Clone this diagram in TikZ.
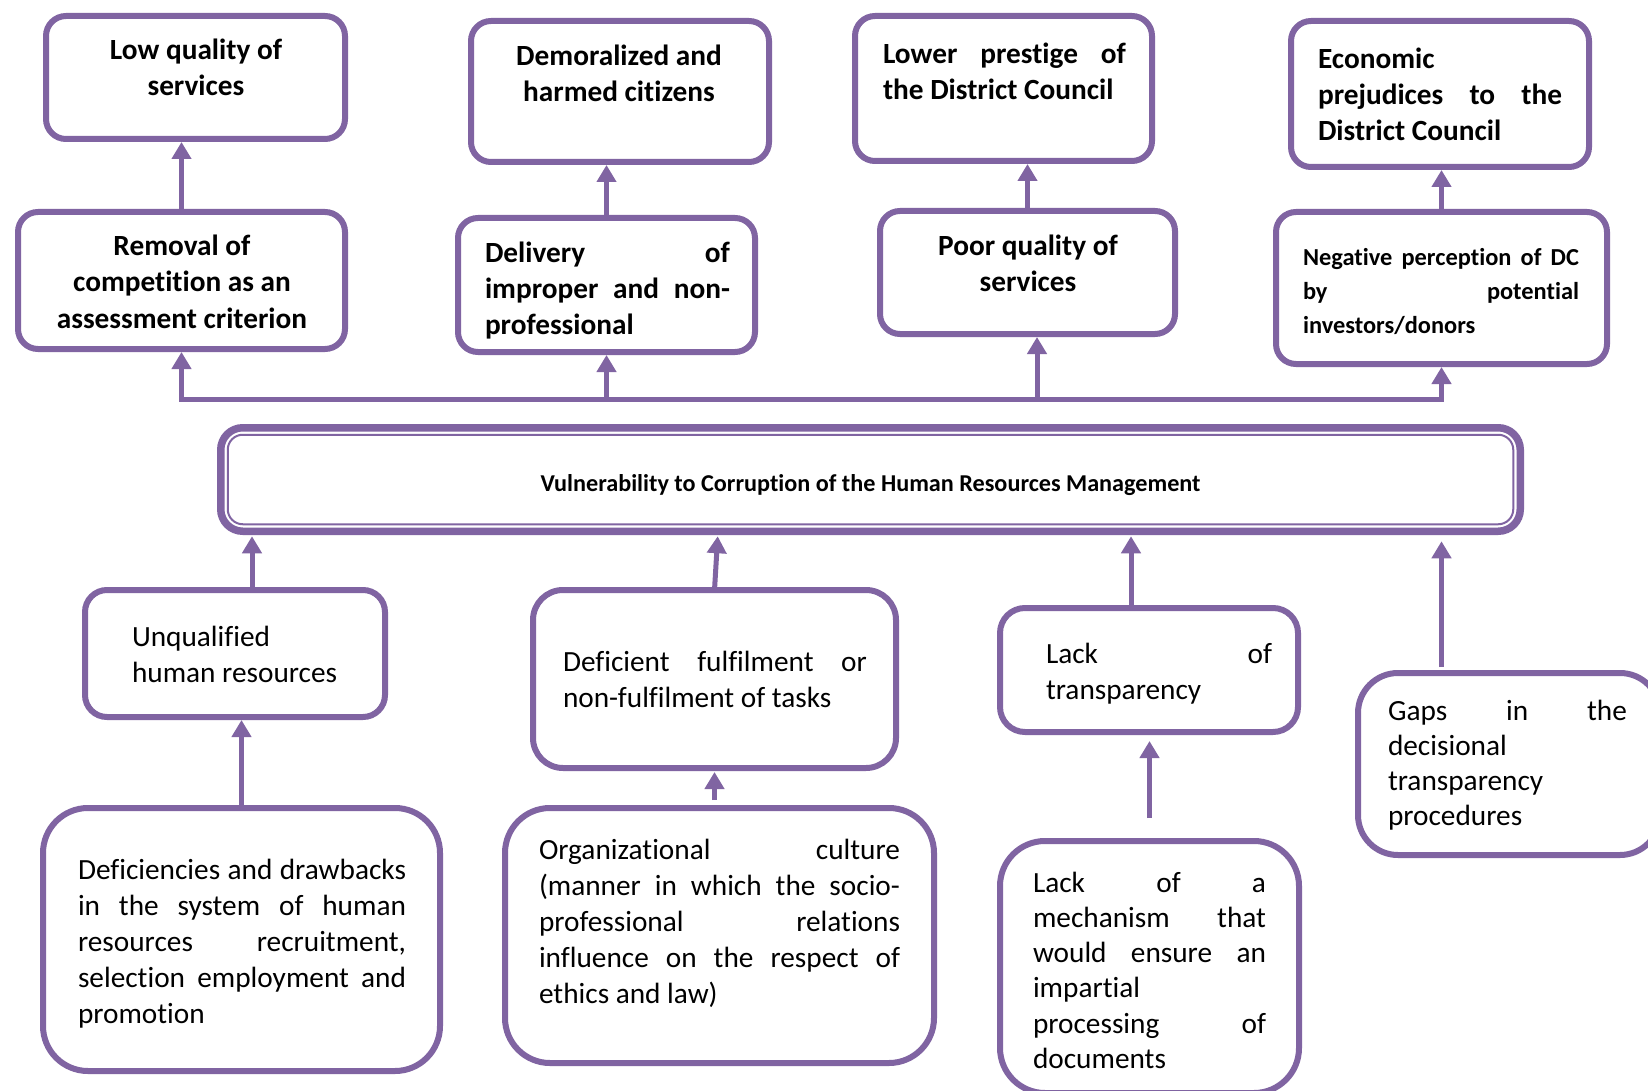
\documentclass[tikz,border=0pt]{standalone}
\usepackage{fontspec}
\setmainfont{Carlito}[Ligatures=NoCommon]
\usetikzlibrary{arrows.meta}
\definecolor{vpurple}{RGB}{128,100,162}

% box content: #1 width, #2 height, #3 left inset, #4 first baseline, #5 text width, #6 lines
\newcommand\inbox[6]{\parbox[c][#2][t]{#1}{\vspace*{\dimexpr#4-0.7\baselineskip\relax}\noindent\hspace*{#3}\parbox[t]{#5}{#6}}}
% justified, left and centred lines
\newcommand\J[1]{\hbox to\linewidth{\strut#1}}
\newcommand\Lf[1]{\hbox to\linewidth{\strut#1\hfil}}
\newcommand\C[1]{\hbox to\linewidth{\hfil\strut#1\hfil}}

\begin{document}
\begin{tikzpicture}[x=1pt,y=-1pt,
  box/.style={draw=vpurple, line width=6pt, rounded corners=20pt, inner sep=0pt, outer sep=0pt, fill=white, anchor=north west},
  hd/.style={font=\fontsize{29.3}{36}\selectfont\bfseries},
  bd/.style={font=\fontsize{29.3}{36}\selectfont},
  sm/.style={font=\fontsize{24.4}{34}\selectfont\bfseries},
  arr/.style={draw=vpurple, line width=5pt, -{Triangle[length=17pt,width=19pt]}, shorten >=3pt},
  conn/.style={draw=vpurple, line width=5pt}]
\useasboundingbox (0,0) rectangle (1648,1091);
\fill[white] (0,0) rectangle (1648,1091);

% consequences (top rows)
\node[box,hd] (b1) at (46,16) {\inbox{299pt}{123pt}{20pt}{44pt}{260pt}{\C{Low quality of}\C{services}}};
\node[box,hd] (b2) at (18,212) {\inbox{327pt}{137pt}{14pt}{44pt}{300pt}{\C{Removal of}\C{competition as an}\C{assessment criterion}}};
\node[box,hd] (b3) at (471,21) {\inbox{298pt}{141pt}{18pt}{45pt}{260pt}{\C{Demoralized and}\C{harmed citizens}}};
\node[box,hd] (b4) at (458,218) {\inbox{297pt}{134pt}{27pt}{44pt}{245pt}{\J{Delivery of}\J{improper and non-}\Lf{professional}}};
\node[box,hd] (b5) at (855,16) {\inbox{297pt}{145pt}{28pt}{48pt}{243pt}{\J{Lower prestige of}\Lf{the District Council}}};
\node[box,hd] (b6) at (880,211) {\inbox{295pt}{123pt}{18pt}{45pt}{260pt}{\C{Poor quality of}\C{services}}};
\node[box,hd] (b7) at (1291,21) {\inbox{298pt}{146pt}{27pt}{48pt}{244pt}{\Lf{Economic}\J{prejudices to the}\Lf{District Council}}};
\node[box,sm] (b8) at (1276,212) {\inbox{331pt}{152pt}{27pt}{53pt}{276pt}{\J{Negative perception of DC}\J{by potential}\Lf{investors/donors}}};

% central problem
\node[box, line width=7.5pt, rounded corners=22pt, font=\fontsize{24.2}{30}\selectfont\bfseries] (M) at (220.75,427.75)
  {\inbox{1299.5pt}{103.5pt}{0pt}{63.25pt}{1299.5pt}{\C{Vulnerability to Corruption of the Human Resources Management}}};
\draw[vpurple, line width=2pt, rounded corners=15pt] ([shift={(7pt,-7pt)}]M.north west) rectangle ([shift={(-7pt,7pt)}]M.south east);

% causes (bottom rows)
\node[box,bd,rounded corners=22pt] (U) at (85,590) {\inbox{300pt}{127pt}{47pt}{56pt}{240pt}{\Lf{Unqualified}\Lf{human resources}}};
\node[box,bd,rounded corners=45pt] (D) at (43,808) {\inbox{397pt}{263pt}{35pt}{71pt}{328pt}{\J{Deficiencies and drawbacks}\J{in the system of human}\J{resources recruitment,}\J{selection employment and}\Lf{promotion}}};
\node[box,bd,rounded corners=30pt] (F) at (533,590) {\inbox{363pt}{178pt}{30pt}{81pt}{304pt}{\J{Deficient fulfilment or}\Lf{non-fulfilment of tasks}}};
\node[box,bd,rounded corners=45pt] (O) at (505,808) {\inbox{429pt}{255pt}{34pt}{51pt}{361pt}{\J{Organizational culture}\J{(manner in which the socio-}\J{professional relations}\J{influence on the respect of}\Lf{ethics and law)}}};
\node[box,bd,rounded corners=25pt] (T) at (1000,608) {\inbox{298pt}{124pt}{46pt}{55pt}{226pt}{\J{Lack of}\Lf{transparency}}};
\node[box,font=\fontsize{29.3}{35.3}\selectfont,rounded corners=45pt] (K) at (1000,841) {\inbox{299pt}{252pt}{33pt}{51pt}{233pt}{\J{Lack of a}\J{mechanism that}\J{would ensure an}\Lf{impartial}\J{processing of}\Lf{documents}}};
\node[box,font=\fontsize{29.3}{35}\selectfont,rounded corners=40pt] (G) at (1358,673) {\inbox{302pt}{182pt}{30pt}{47pt}{239pt}{\J{Gaps in the}\Lf{decisional}\Lf{transparency}\Lf{procedures}}};

% distribution bar above the central problem
\coordinate (busL) at (181.5,399);
\coordinate (busP) at (1037,399);
\coordinate (busR) at (1441.5,399);
\draw[conn, line cap=rect] (busL) -- (busR);
\draw[arr] (busL) -- (b2.south);
\draw[arr] (b4.south |- busL) -- (b4.south);
\draw[arr] (busP) -- (busP |- b6.south);
\draw[arr] (busR) -- (b8.south);

% effects to consequences
\draw[arr] (b2.north) -- (b2.north |- b1.south);
\draw[arr] (b4.north) -- (b4.north |- b3.south);
\draw[arr] (b6.north) -- (b6.north |- b5.south);
\draw[arr] (b8.north) -- (b8.north |- b7.south);

% causes to the central problem
\draw[arr, shorten >=5pt] ([xshift=17pt]U.north) -- ([xshift=17pt]U.north |- M.south);
\draw[arr] (D.north) -- (D.north |- U.south);
\draw[arr, shorten >=5pt] (F.north) -- ([xshift=3.5pt]F.north |- M.south);
\draw[arr, shorten <=8pt, shorten >=4pt] (F.south |- O.north) -- (F.south);
\draw[arr, shorten >=5pt] ([xshift=-18pt]T.north) -- ([xshift=-18pt]T.north |- M.south);
\draw[arr, shorten <=23pt, shorten >=9pt] (K.north) -- (K.north |- T.south);
\draw[arr, shorten <=6pt, shorten >=10pt] (busR |- G.north) -- (busR |- M.south);
\end{tikzpicture}
\end{document}
